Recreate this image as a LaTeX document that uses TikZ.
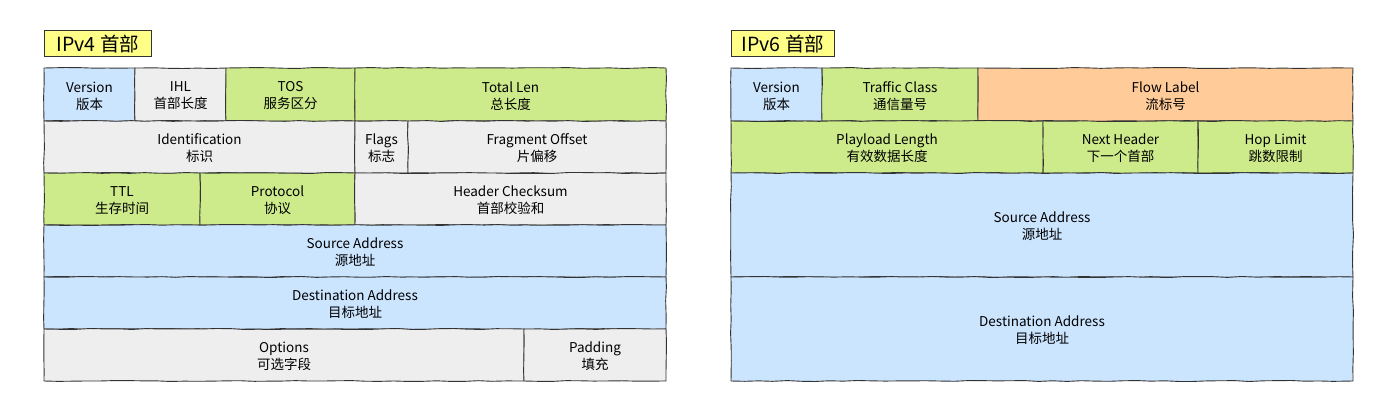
\documentclass[tikz,border=0pt]{standalone}
\usepackage{fontspec}
\setmainfont{Noto Sans CJK SC}
\usetikzlibrary{decorations.pathmorphing}
\definecolor{fblue}{HTML}{CCE5FF}
\definecolor{fgray}{HTML}{EEEEEE}
\definecolor{fgreen}{HTML}{CDEB8B}
\definecolor{forange}{HTML}{FFCC99}
\definecolor{fyellow}{HTML}{FFFF88}
\definecolor{edge}{HTML}{333333}
\tikzset{
  fieldbox/.style={draw=edge, line width=0.9pt, decorate, decoration={random steps, segment length=14pt, amplitude=0.5pt}},
  lbl/.style={align=center, font=\fontsize{13.5}{17}\selectfont, text=black},
  title/.style={draw=edge, line width=0.9pt, fill=fyellow, font=\fontsize{19.5}{21}\selectfont, inner xsep=0pt, inner ysep=0pt, anchor=north west, minimum height=26pt, text depth=0pt},
}
\newcommand{\fld}[7]{%
  \path[fieldbox, fill=#5] (#1,#2) rectangle (#3,#4);
  \node[lbl] (#6) at ({(#1+#3)/2},{(#2+#4)/2+1.5}) {#7};
}
\begin{document}
\begin{tikzpicture}[x=1pt,y=-1pt]
\useasboundingbox (0,0) rectangle (1373,418);
\fill[white] (0,0) rectangle (1373,418);
% IPv4
\node[title, minimum width=107pt] (t4) at (44,30) {IPv4 首部};
\fld{44}{68}{135}{121}{fblue}{v4ver}{Version\\版本}
\fld{135}{68}{226}{121}{fgray}{v4ihl}{IHL\\首部长度}
\fld{226}{68}{355}{121}{fgreen}{v4tos}{TOS\\服务区分}
\fld{355}{68}{666}{121}{fgreen}{v4len}{Total Len\\总长度}
\fld{44}{121}{355}{173}{fgray}{v4id}{Identification\\标识}
\fld{355}{121}{408}{173}{fgray}{v4flag}{Flags\\标志}
\fld{408}{121}{666}{173}{fgray}{v4frag}{Fragment Offset\\片偏移}
\fld{44}{173}{200}{225}{fgreen}{v4ttl}{TTL\\生存时间}
\fld{200}{173}{355}{225}{fgreen}{v4proto}{Protocol\\协议}
\fld{355}{173}{666}{225}{fgray}{v4sum}{Header Checksum\\首部校验和}
\fld{44}{225}{666}{277}{fblue}{v4src}{Source Address\\源地址}
\fld{44}{277}{666}{329}{fblue}{v4dst}{Destination Address\\目标地址}
\fld{44}{329}{524}{381}{fgray}{v4opt}{Options\\可选字段}
\fld{524}{329}{666}{381}{fgray}{v4pad}{Padding\\填充}
% IPv6
\node[title, minimum width=103pt] (t6) at (731,30) {IPv6 首部};
\fld{731}{68}{822}{121}{fblue}{v6ver}{Version\\版本}
\fld{822}{68}{978}{121}{fgreen}{v6tc}{Traffic Class\\通信量号}
\fld{978}{68}{1353}{121}{forange}{v6fl}{Flow Label\\流标号}
\fld{731}{121}{1043}{173}{fgreen}{v6pl}{Playload Length\\有效数据长度}
\fld{1043}{121}{1198}{173}{fgreen}{v6nh}{Next Header\\下一个首部}
\fld{1198}{121}{1353}{173}{fgreen}{v6hop}{Hop Limit\\跳数限制}
\fld{731}{173}{1353}{277}{fblue}{v6src}{Source Address\\源地址}
\fld{731}{277}{1353}{381}{fblue}{v6dst}{Destination Address\\目标地址}
\end{tikzpicture}
\end{document}
